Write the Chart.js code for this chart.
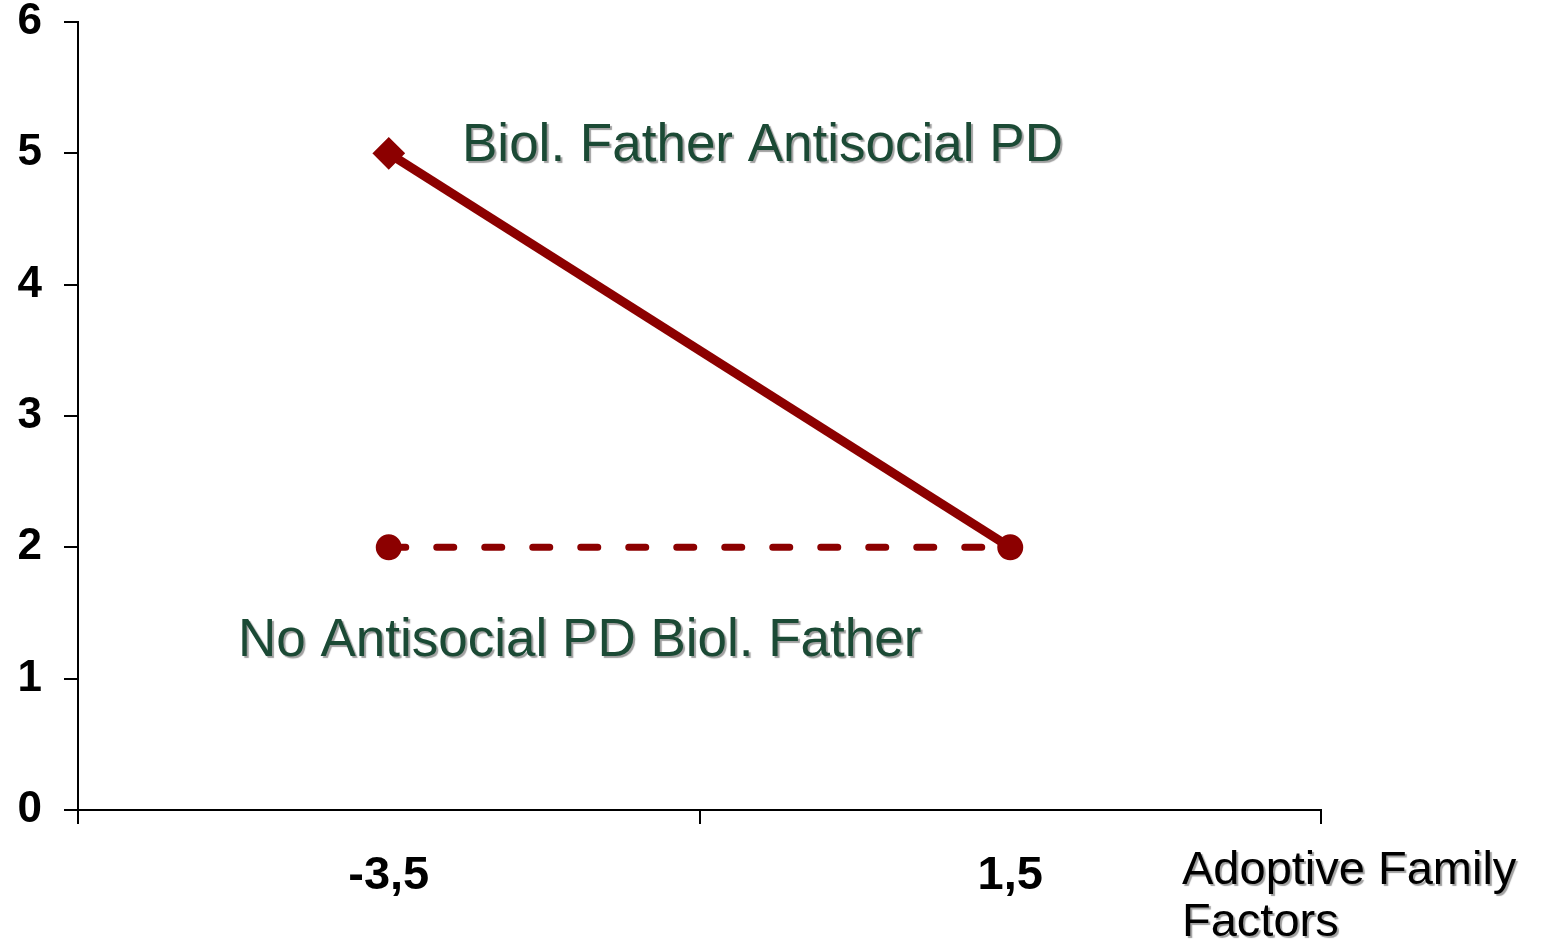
<!DOCTYPE html>
<html>
<head>
<meta charset="utf-8">
<script src="https://cdn.jsdelivr.net/npm/chart.js@4"></script>
<style>
  body { margin: 0; background: #fff; }
  canvas { display: block; }
</style>
</head>
<body>
<canvas id="Chart" width="1544" height="945"></canvas>
<script>
// data
const categories = ["-3,5", "1,5"];
const antisocialFather = [5, 2];
const noAntisocialFather = [2, 2];
const yTicks = [0, 1, 2, 3, 4, 5, 6];

const lineColor = "rgb(140,0,0)";
const labelGreen = "rgb(27,74,53)";

// text labels written on top of the plot (with the soft grey shadow)
const textLabels = {
    id: "textLabels",
    afterDraw(chart) {
        const ctx = chart.ctx;
        ctx.save();
        ctx.shadowColor = "rgba(120,120,120,0.7)";
        ctx.shadowOffsetX = 2;
        ctx.shadowOffsetY = 2;
        ctx.shadowBlur = 1;
        ctx.textAlign = "left";
        ctx.textBaseline = "alphabetic";

        ctx.fillStyle = labelGreen;
        ctx.font = "53px 'Liberation Sans', Arial, sans-serif";
        ctx.fillText("Biol. Father Antisocial PD", 462, 161);
        ctx.fillText("No Antisocial PD Biol. Father", 238, 656);

        ctx.fillStyle = "#000";
        ctx.font = "47px 'Liberation Sans', Arial, sans-serif";
        ctx.fillText("Adoptive Family", 1182, 884);
        ctx.fillText("Factors", 1182, 936);
        ctx.restore();
    }
};

let myChart = new Chart("Chart", {
    type: "line",
    data: {
        labels: categories,
        datasets: [{
            data: antisocialFather,
            borderColor: lineColor,
            backgroundColor: lineColor,
            borderWidth: 9,
            pointStyle: ["rectRot", "circle"],
            pointRadius: [15, 12],
            pointBorderWidth: 2,
            pointBorderColor: lineColor,
            pointBackgroundColor: lineColor
        }, {
            data: noAntisocialFather,
            borderColor: lineColor,
            backgroundColor: lineColor,
            borderWidth: 7,
            borderDash: [17, 31],
            borderCapStyle: "round",
            pointStyle: "circle",
            pointRadius: [12, 0],
            pointBorderWidth: 2,
            pointBorderColor: lineColor,
            pointBackgroundColor: lineColor
        }]
    },
    options: {
        responsive: false,
        animation: false,
        events: [],
        layout: { padding: { top: 0, right: 223, left: 0, bottom: 0 } },
        plugins: {
            legend: { display: false },
            tooltip: { enabled: false }
        },
        scales: {
            x: {
                offset: true,
                grid: {
                    offset: true,
                    drawOnChartArea: false,
                    tickLength: 14,
                    color: "#000",
                    lineWidth: 2
                },
                border: { display: true, color: "#000", width: 2 },
                ticks: {
                    color: "#000",
                    padding: 24,
                    font: { family: "'Liberation Sans', Arial", size: 47, weight: "bold" }
                },
                afterFit(scale) { scale.height = 135; }
            },
            y: {
                min: 0,
                max: 6,
                afterBuildTicks(scale) { scale.ticks = yTicks.map(v => ({ value: v })); },
                grid: {
                    drawOnChartArea: false,
                    tickLength: 14,
                    color: "#000",
                    lineWidth: 2
                },
                border: { display: true, color: "#000", width: 2 },
                ticks: {
                    color: "#000",
                    padding: 22,
                    font: { family: "'Liberation Sans', Arial", size: 44, weight: "bold", lineHeight: 1.0 }
                },
                afterFit(scale) {
                    scale.width = 78;
                    scale.paddingTop = 22;
                    scale.paddingBottom = 0;
                }
            }
        }
    },
    plugins: [textLabels]
});
</script>
</body>
</html>
